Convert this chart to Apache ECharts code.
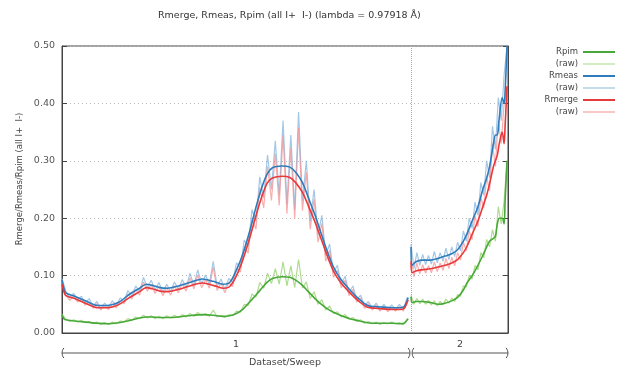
<!DOCTYPE html>
<html>
<head>
<meta charset="utf-8">
<script src="https://cdn.jsdelivr.net/npm/echarts@6/dist/echarts.min.js"></script>
<style>html,body{margin:0;padding:0;background:#fff}#c{width:625px;height:374px}</style>
</head>
<body>
<div id="c"></div>
<script>
const titleText = 'Rmerge, Rmeas, Rpim (all I+  I-) (lambda = 0.97918 Å)';
const yName = 'Rmerge/Rmeas/Rpim (all I+  I-)';
const xName = 'Dataset/Sweep';
const datasetLabels = ['1', '2'];
const datasetStarts = [0, 360];
const datasetEnd = 460;
const yTicks = [0, 0.1, 0.2, 0.3, 0.4, 0.5];

// smoothed curves
const smoothX1 = [0,2,4,13,24,37,47,58,70,80,87,93,101,109,120,130,145,156,166,173,180,187,194,201,207,212,217,227,235,241,248,254,261,266,273,280,287,297,307,315,323,331,341,349,353,357];
const meas1 = [0.092,0.078,0.070,0.064,0.056,0.048,0.048,0.053,0.068,0.078,0.085,0.083,0.079,0.078,0.082,0.087,0.094,0.090,0.085,0.088,0.11,0.14,0.18,0.225,0.258,0.278,0.288,0.291,0.289,0.28,0.262,0.236,0.205,0.180,0.145,0.115,0.095,0.075,0.058,0.048,0.046,0.045,0.044,0.044,0.046,0.062];
const merge1 = [0.085,0.072,0.065,0.060,0.052,0.044,0.044,0.049,0.062,0.072,0.079,0.077,0.073,0.072,0.076,0.081,0.087,0.083,0.078,0.081,0.10,0.13,0.168,0.21,0.242,0.262,0.270,0.273,0.271,0.262,0.245,0.222,0.193,0.170,0.137,0.108,0.089,0.070,0.054,0.045,0.043,0.042,0.041,0.041,0.043,0.058];
const pim1 = [0.031,0.025,0.023,0.021,0.019,0.017,0.016,0.018,0.022,0.026,0.028,0.028,0.027,0.027,0.028,0.030,0.032,0.031,0.029,0.030,0.034,0.042,0.055,0.068,0.080,0.089,0.095,0.098,0.097,0.092,0.083,0.072,0.060,0.052,0.043,0.036,0.031,0.025,0.021,0.018,0.017,0.017,0.017,0.016,0.017,0.025];
const smoothX2 = [360,361,365,371,380,388,395,402,408,414,418,423,429,434,438,441,445,447,449,451,454,456,457,459];
const meas2 = [0.150,0.118,0.124,0.127,0.127,0.130,0.134,0.138,0.145,0.160,0.174,0.195,0.22,0.25,0.27,0.29,0.33,0.345,0.345,0.375,0.41,0.40,0.42,0.50];
const merge2 = [0.125,0.105,0.108,0.110,0.112,0.115,0.118,0.122,0.128,0.14,0.152,0.172,0.195,0.22,0.24,0.26,0.29,0.30,0.31,0.33,0.35,0.33,0.36,0.43];
const pim2 = [0.063,0.053,0.055,0.055,0.053,0.050,0.052,0.056,0.062,0.075,0.088,0.100,0.118,0.135,0.150,0.160,0.165,0.168,0.19,0.20,0.20,0.19,0.23,0.30];

// raw per-image values (sampled), dataset 1 every 4 images, dataset 2 every 3 images
const rawX1 = Array.from({length: 90}, (_, i) => i * 4);
const rawX2 = Array.from({length: 34}, (_, i) => 360 + i * 3);
const rawMeas1 = [
0.095,0.072,0.061,0.069,0.058,0.064,0.052,0.060,0.047,0.055,
0.043,0.052,0.045,0.056,0.048,0.061,0.055,0.074,0.064,0.082,
0.072,0.097,0.079,0.092,0.075,0.088,0.071,0.085,0.072,0.089,
0.076,0.093,0.079,0.104,0.083,0.110,0.086,0.101,0.085,0.125,
0.081,0.094,0.076,0.095,0.088,0.122,0.115,0.162,0.150,0.215,
0.195,0.272,0.235,0.310,0.250,0.335,0.240,0.370,0.225,0.345,
0.215,0.385,0.230,0.300,0.195,0.250,0.170,0.205,0.135,0.155,
0.105,0.118,0.085,0.099,0.070,0.082,0.058,0.066,0.047,0.055,
0.043,0.052,0.041,0.050,0.040,0.049,0.041,0.050,0.041,0.062];
const rawMerge1 = [
0.088,0.066,0.057,0.064,0.054,0.059,0.048,0.055,0.043,0.051,
0.040,0.048,0.041,0.051,0.044,0.056,0.051,0.068,0.059,0.076,
0.066,0.089,0.073,0.085,0.069,0.081,0.065,0.079,0.066,0.082,
0.070,0.086,0.073,0.096,0.077,0.101,0.079,0.093,0.078,0.115,
0.074,0.087,0.070,0.088,0.081,0.112,0.106,0.150,0.139,0.200,
0.181,0.254,0.218,0.290,0.231,0.312,0.222,0.345,0.208,0.322,
0.199,0.358,0.213,0.280,0.181,0.233,0.158,0.191,0.125,0.144,
0.097,0.109,0.079,0.092,0.065,0.076,0.054,0.061,0.043,0.051,
0.040,0.048,0.038,0.046,0.037,0.045,0.038,0.046,0.038,0.057];
const rawPim1 = [
0.033,0.024,0.020,0.023,0.019,0.022,0.018,0.020,0.016,0.019,
0.015,0.018,0.015,0.019,0.016,0.021,0.019,0.025,0.022,0.028,
0.025,0.031,0.026,0.030,0.025,0.029,0.025,0.030,0.026,0.031,
0.027,0.032,0.028,0.034,0.029,0.036,0.030,0.034,0.029,0.040,
0.028,0.031,0.027,0.032,0.030,0.038,0.036,0.050,0.048,0.068,
0.062,0.088,0.078,0.104,0.086,0.112,0.085,0.124,0.082,0.117,
0.079,0.128,0.078,0.089,0.060,0.072,0.050,0.058,0.040,0.047,
0.034,0.037,0.028,0.032,0.024,0.027,0.020,0.023,0.017,0.020,
0.016,0.019,0.015,0.018,0.016,0.019,0.016,0.018,0.015,0.024];
const rawMeas2 = [0.155,0.112,0.140,0.118,0.137,0.119,0.135,0.120,0.142,0.122,0.140,0.125,0.148,0.128,0.150,0.133,0.158,0.143,0.178,0.160,0.200,0.182,0.228,0.205,0.262,0.240,0.300,0.270,0.36,0.32,0.41,0.37,0.45,0.50];
const rawMerge2 = [0.130,0.098,0.122,0.103,0.119,0.104,0.117,0.105,0.124,0.107,0.122,0.109,0.130,0.112,0.132,0.117,0.140,0.127,0.158,0.143,0.178,0.163,0.204,0.185,0.236,0.218,0.272,0.248,0.33,0.29,0.37,0.33,0.40,0.43];
const rawPim2 = [0.066,0.050,0.060,0.051,0.059,0.050,0.057,0.049,0.056,0.047,0.055,0.049,0.059,0.052,0.061,0.055,0.067,0.064,0.082,0.080,0.101,0.094,0.118,0.110,0.140,0.131,0.163,0.150,0.18,0.16,0.22,0.19,0.23,0.30];

const FONT = 'DejaVu Sans';
const pair = (xs, ys) => xs.map((x, i) => [x, ys[i]]);
const joined = (xa, ya, xb, yb) => pair(xa, ya).concat([[359, '-']], pair(xb, yb));

const C = {
  pim: '#48a93a', pimRaw: 'rgba(140,205,95,0.7)', pimLeg: '#d4ecc0',
  meas: '#2e7cbc', measRaw: 'rgba(125,175,218,0.7)', measLeg: '#c4dbec',
  merge: '#e8393b', mergeRaw: 'rgba(245,140,140,0.7)', mergeLeg: '#f8c8c8'
};

function lineSeries(name, data, color, width, z) {
  return {
    name, type: 'line', data, showSymbol: false, symbol: 'none', z,
    smooth: width > 1.3 ? 0.3 : false,
    color, lineStyle: { color, width }, emphasis: { disabled: true }, silent: true
  };
}

const chart = echarts.init(document.getElementById('c'), null, { renderer: 'canvas' });
const series = [
  lineSeries('Rpim (raw)', joined(rawX1, rawPim1, rawX2, rawPim2), C.pimRaw, 1.2, 2),
  lineSeries('Rmeas (raw)', joined(rawX1, rawMeas1, rawX2, rawMeas2), C.measRaw, 1.2, 2),
  lineSeries('Rmerge (raw)', joined(rawX1, rawMerge1, rawX2, rawMerge2), C.mergeRaw, 1.2, 2),
  lineSeries('Rpim', joined(smoothX1, pim1, smoothX2, pim2), C.pim, 1.6, 5),
  lineSeries('Rmeas', joined(smoothX1, meas1, smoothX2, meas2), C.meas, 1.6, 5),
  lineSeries('Rmerge', joined(smoothX1, merge1, smoothX2, merge2), C.merge, 1.6, 5)
];
series[0].markLine = {
  silent: true, symbol: 'none', label: { show: false },
  lineStyle: { type: 'dotted', color: '#aaa', width: 1 },
  data: [{ xAxis: datasetStarts[1] }]
};

chart.setOption({
  animation: false,
  textStyle: { fontFamily: FONT },
  title: {
    text: titleText, left: 153, top: 6,
    textStyle: { fontFamily: FONT, fontSize: 9.5, fontWeight: 'normal', color: '#333' }
  },
  legend: {
    orient: 'vertical', right: 5, top: 42, align: 'right',
    icon: 'rect', itemWidth: 32, itemHeight: 2, itemGap: 2,
    data: [
      { name: 'Rpim' },
      { name: 'Rpim (raw)', itemStyle: { color: C.pimLeg } },
      { name: 'Rmeas' },
      { name: 'Rmeas (raw)', itemStyle: { color: C.measLeg } },
      { name: 'Rmerge' },
      { name: 'Rmerge (raw)', itemStyle: { color: C.mergeLeg } }
    ],
    formatter: n => n.indexOf('raw') >= 0 ? '(raw)' : n,
    textStyle: { fontFamily: FONT, fontSize: 8.5, color: '#444', lineHeight: 10 },
    selectedMode: false
  },
  grid: { left: 62, right: 117, top: 46, bottom: 41, show: true, borderColor: '#444', borderWidth: 1 },
  xAxis: {
    type: 'value', min: 0, max: datasetEnd,
    axisLine: { show: true, lineStyle: { color: '#444' } },
    axisTick: { show: false }, axisLabel: { show: false }, splitLine: { show: false },
    name: xName, nameLocation: 'middle', nameGap: 25,
    nameTextStyle: { fontFamily: FONT, fontSize: 9.5, color: '#444' }
  },
  yAxis: [{
    type: 'value', min: 0, max: 0.5, interval: 0.1, position: 'left',
    axisLine: { show: true, lineStyle: { color: '#444' } },
    axisTick: { show: true, inside: true, length: 5, lineStyle: { color: '#444' } },
    axisLabel: { formatter: v => v.toFixed(2), fontFamily: FONT, fontSize: 9.5, color: '#555', margin: 7 },
    splitLine: { show: true, lineStyle: { type: [1, 3], color: '#bbb' } }
  }, {
    type: 'value', min: 0, max: 0.5, interval: 0.1, position: 'right',
    axisLine: { show: true, lineStyle: { color: '#444' } },
    axisTick: { show: true, inside: true, length: 5, lineStyle: { color: '#444' } },
    axisLabel: { show: false }, splitLine: { show: false }
  }],
  series
});

// dataset bracket under the x axis
const px = x => chart.convertToPixel({ gridIndex: 0 }, [x, 0])[0];
const yb = 353, r = 8, a = 0.7;
const bounds = datasetStarts.concat([datasetEnd]);
const g = [];
for (let i = 0; i < datasetLabels.length; i++) {
  const x0 = px(bounds[i]) + (i > 0 ? 1 : 0), x1 = px(bounds[i + 1]) - (i < datasetLabels.length - 1 ? 1 : 0);
  g.push({ type: 'line', shape: { x1: x0, y1: yb, x2: x1, y2: yb }, style: { stroke: '#555', lineWidth: 1 }, silent: true });
  g.push({ type: 'arc', shape: { cx: x0 + r, cy: yb, r, startAngle: Math.PI - a, endAngle: Math.PI + a }, style: { stroke: '#555', fill: null, lineWidth: 1 }, silent: true });
  g.push({ type: 'arc', shape: { cx: x1 - r, cy: yb, r, startAngle: -a, endAngle: a }, style: { stroke: '#555', fill: null, lineWidth: 1 }, silent: true });
  g.push({ type: 'text', x: (x0 + x1) / 2, y: 345, style: { text: datasetLabels[i], font: '9.5px "DejaVu Sans"', fill: '#444', align: 'center', verticalAlign: 'middle' }, silent: true });
}
g.push({ type: 'text', x: 20, y: 179, rotation: Math.PI / 2, style: { text: yName, font: '8.5px "DejaVu Sans"', fill: '#444', align: 'center', verticalAlign: 'middle' }, silent: true });
chart.setOption({ graphic: g });
</script>
</body>
</html>
